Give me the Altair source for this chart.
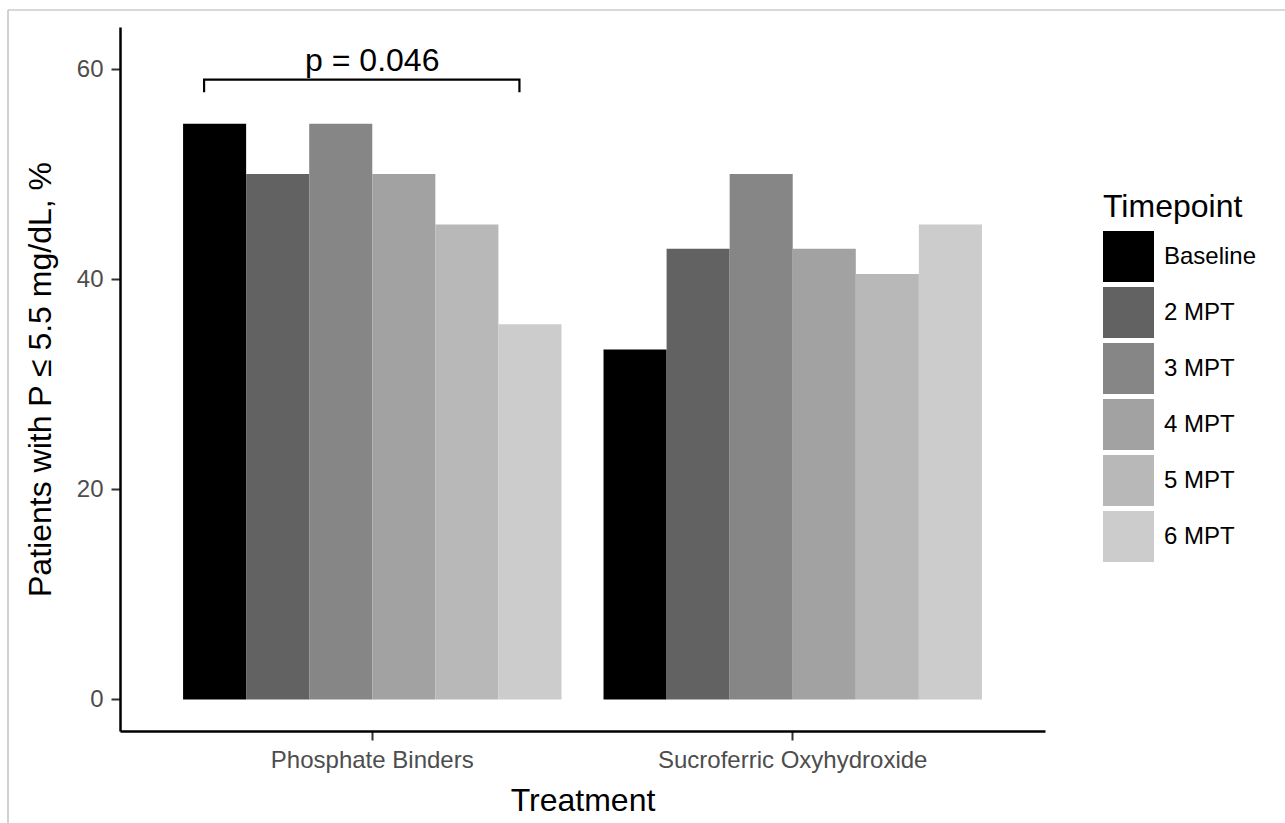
import altair as alt
import pandas as pd

# ---- data ----
treatments = ["Phosphate Binders", "Sucroferric Oxyhydroxide"]
timepoints = ["Baseline", "2 MPT", "3 MPT", "4 MPT", "5 MPT", "6 MPT"]
pb_values = [54.8, 50.0, 54.8, 50.0, 45.2, 35.7]
so_values = [33.3, 42.9, 50.0, 42.9, 40.5, 45.2]
fill_colors = ["#000000", "#626262", "#868686", "#A2A2A2", "#B8B8B8", "#CCCCCC"]
y_ticks = [0, 20, 40, 60]

# significance bracket (in data units: x in group units, y in %)
bracket_x = [0.6, 0.6, 1.35, 1.35]
bracket_y = [57.8, 59.0, 59.0, 57.8]
p_label = ["p = 0.046"]
p_label_x = [1.0]
p_label_y = [59.8]

rows = []
for t, vals in zip(treatments, [pb_values, so_values]):
    for tp, v in zip(timepoints, vals):
        rows.append({"Treatment": t, "Timepoint": tp, "Percent": v})
df = pd.DataFrame(rows)

bracket_df = pd.DataFrame({"bx": bracket_x, "by": bracket_y, "ord": list(range(len(bracket_x)))})
label_df = pd.DataFrame({"lx": p_label_x, "ly": p_label_y, "txt": p_label})

Y_DOMAIN = [-3.0, 64.0]
X_DOMAIN = [0.4, 2.6]

W, H = 925, 704

bars = alt.Chart(df).mark_bar(strokeWidth=0).encode(
    x=alt.X(
        "Treatment:N",
        sort=treatments,
        scale=alt.Scale(paddingInner=0.1, paddingOuter=0.15),
        axis=alt.Axis(
            title="Treatment",
            labelAngle=0,
            labelLimit=600,
            titleX=W / 2,
            titleY=79,
            titleBaseline="alphabetic",
            titleAlign="center",
        ),
    ),
    xOffset=alt.XOffset(
        "Timepoint:N", sort=timepoints, scale=alt.Scale(paddingInner=0, paddingOuter=0)
    ),
    y=alt.Y(
        "Percent:Q",
        stack=None,
        scale=alt.Scale(domain=Y_DOMAIN, nice=False, zero=False),
        axis=alt.Axis(
            title="Patients with P ≤ 5.5 mg/dL, %",
            values=y_ticks,
            titleAngle=270,
            titleX=-70,
            titleY=H / 2,
            titleBaseline="alphabetic",
            titleAlign="center",
        ),
    ),
    y2=alt.datum(0),
    color=alt.Color(
        "Timepoint:N",
        sort=timepoints,
        scale=alt.Scale(domain=timepoints, range=fill_colors),
        legend=alt.Legend(
            title="Timepoint",
            orient="none",
            legendX=983,
            legendY=165,
            symbolType="square",
            symbolSize=2601,
            symbolStrokeWidth=0,
            symbolOpacity=1,
            labelFontSize=24,
            labelColor="#000000",
            labelOffset=10,
            titleFontSize=32,
            titleFontWeight="normal",
            titleColor="#000000",
            titlePadding=7,
            rowPadding=5,
            padding=0,
        ),
    ),
)

bracket = alt.Chart(bracket_df).mark_line(color="#000000", strokeWidth=2.2).encode(
    x=alt.X("bx:Q", scale=alt.Scale(domain=X_DOMAIN, nice=False, zero=False), axis=None),
    y=alt.Y("by:Q", scale=alt.Scale(domain=Y_DOMAIN, nice=False, zero=False), axis=None),
    order="ord:Q",
)

ptext = alt.Chart(label_df).mark_text(
    fontSize=32, baseline="alphabetic", align="center", color="#000000"
).encode(
    x=alt.X("lx:Q", scale=alt.Scale(domain=X_DOMAIN, nice=False, zero=False), axis=None),
    y=alt.Y("ly:Q", scale=alt.Scale(domain=Y_DOMAIN, nice=False, zero=False), axis=None),
    text="txt:N",
)

# thin grey frame at the picture's top and left edges
frame_top = alt.Chart(label_df).mark_rule(color="#B4B4B4", strokeWidth=1.2).encode(
    x=alt.value(-112), x2=alt.value(1165), y=alt.value(-17)
)
frame_left = alt.Chart(label_df).mark_rule(color="#B4B4B4", strokeWidth=1.2).encode(
    x=alt.value(-112), y=alt.value(-17), y2=alt.value(796)
)

chart = (
    alt.layer(bars, bracket, ptext, frame_top, frame_left)
    .resolve_scale(x="independent", y="independent")
    .properties(
        width=W,
        height=H,
        autosize=alt.AutoSizeParams(type="none"),
        padding={"left": 120, "top": 27, "right": 240, "bottom": 92},
        background="#FFFFFF",
    )
    .configure(font="Liberation Sans")
    .configure_view(stroke=None)
    .configure_axis(
        grid=False,
        domainColor="#000000",
        domainWidth=2.5,
        tickColor="#333333",
        tickWidth=2,
        tickSize=9,
        labelFontSize=24,
        labelColor="#4D4D4D",
        labelPadding=8,
        titleFontSize=32,
        titleFontWeight="normal",
        titleColor="#000000",
    )
)

chart.save("out.html", embed_options={"renderer": "svg", "actions": False})
